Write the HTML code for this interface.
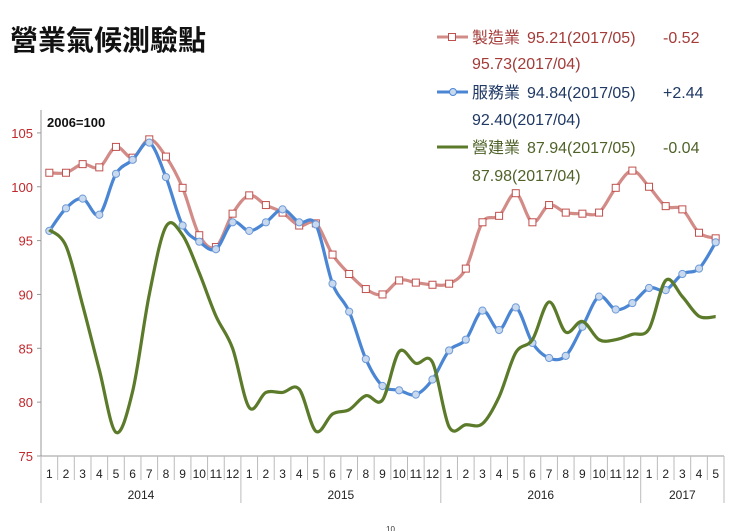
<!DOCTYPE html>
<html><head><meta charset="utf-8"><style>
body{margin:0;background:#fff;width:741px;height:531px;overflow:hidden}
svg{display:block}
text{font-family:"Liberation Sans","Noto Sans CJK TC",sans-serif}
</style></head><body>
<svg id="s" width="741" height="531" viewBox="0 0 741 531" xmlns="http://www.w3.org/2000/svg">
<text x="10" y="50" font-size="28" font-weight="bold" fill="#111">營業氣候測驗點</text>
<g font-size="16">
<line x1="437" y1="37" x2="468" y2="37" stroke="#D38B87" stroke-width="3"/><rect x="448.5" y="33.5" width="7" height="7" fill="#fff" stroke="#C0504D"/>
<text x="472" y="43" fill="#A33B38">製造業</text><text x="527" y="43" fill="#A33B38">95.21(2017/05)</text><text x="663" y="43" fill="#A33B38">-0.52</text>
<text x="472" y="69" fill="#A33B38">95.73(2017/04)</text>
<line x1="437" y1="92" x2="468" y2="92" stroke="#4A86D4" stroke-width="3"/><circle cx="453" cy="92" r="3.5" fill="#C9D9EE" stroke="#4A86D4"/>
<text x="472" y="98" fill="#1F3864">服務業</text><text x="527" y="98" fill="#1F3864">94.84(2017/05)</text><text x="663" y="98" fill="#1F3864">+2.44</text>
<text x="472" y="125" fill="#1F3864">92.40(2017/04)</text>
<line x1="437" y1="147" x2="468" y2="147" stroke="#5B7A2A" stroke-width="3"/>
<text x="472" y="153" fill="#4F6228">營建業</text><text x="527" y="153" fill="#4F6228">87.94(2017/05)</text><text x="663" y="153" fill="#4F6228">-0.04</text>
<text x="472" y="181" fill="#4F6228">87.98(2017/04)</text>
</g>
<text x="47" y="127" font-size="13" font-weight="bold" fill="#111">2006=100</text>
<g id="ax"></g>
<g id="ser"></g>
<text x="386" y="532" font-size="8" fill="#333">10</text>
</svg>
<script>
var NS="http://www.w3.org/2000/svg";
function el(p,t,a,tx){var e=document.createElementNS(NS,t);for(var k in a)e.setAttribute(k,a[k]);if(tx!=null)e.textContent=tx;p.appendChild(e);return e;}
var ax=document.getElementById("ax"),ser=document.getElementById("ser");
var X0=41,X1=724,N=41,dx=(X1-X0)/N;
function Y(v){return 456-(v-75)*10.77;}
function X(i){return X0+dx*(i+0.5);}
el(ax,"line",{x1:X0,y1:110,x2:X0,y2:456,stroke:"#999"});
[75,80,85,90,95,100,105].forEach(function(v){var y=Y(v);
el(ax,"line",{x1:X0-4,y1:y,x2:X0,y2:y,stroke:"#999"});
el(ax,"text",{x:X0-8,y:y+5,"text-anchor":"end","font-size":"13",fill:"#C0282D"},v);});
el(ax,"line",{x1:X0,y1:456,x2:X1,y2:456,stroke:"#999"});
for(var i=0;i<=N;i++){var xx=X0+dx*i;var yr=(i%12==0)||i==N;
el(ax,"line",{x1:xx,y1:456,x2:xx,y2:yr?503:480,stroke:"#bbb"});
if(i<N)el(ax,"text",{x:X(i),y:478,"text-anchor":"middle","font-size":"12",fill:"#222"},(i%12)+1);}
[["2014",0,12],["2015",12,24],["2016",24,36],["2017",36,41]].forEach(function(a){
el(ax,"text",{x:X0+dx*(a[1]+a[2])/2,y:499,"text-anchor":"middle","font-size":"12",fill:"#222"},a[0]);});
var red=[101.3,101.3,102.1,101.8,103.7,102.7,104.4,102.8,99.9,95.5,94.4,97.5,99.2,98.3,97.6,96.4,96.6,93.7,91.9,90.5,90.0,91.3,91.1,90.9,91.0,92.4,96.7,97.3,99.4,96.7,98.3,97.6,97.5,97.6,99.9,101.5,100.0,98.2,97.9,95.73,95.21];
var blue=[95.9,98.0,98.9,97.4,101.2,102.5,104.1,100.9,96.4,94.9,94.2,96.7,95.9,96.7,97.9,96.7,96.5,91.0,88.4,84.0,81.5,81.1,80.7,82.1,84.8,85.8,88.5,86.7,88.8,85.5,84.1,84.3,87.0,89.8,88.6,89.2,90.6,90.4,91.9,92.40,94.84];
var green=[96.0,94.5,89.0,83.0,77.2,81.0,90.0,96.3,95.5,92.0,88.0,85.0,79.5,80.9,80.9,81.2,77.3,78.9,79.3,80.6,80.2,84.7,83.6,83.7,77.7,77.9,78.0,80.5,84.6,85.8,89.3,86.5,87.5,85.8,85.8,86.3,86.8,91.3,89.8,87.98,87.94];
function path(d){var p=d.map(function(v,i){return[X(i),Y(v)];});var s="M"+p[0][0]+","+p[0][1];
for(var i=0;i<p.length-1;i++){var a=p[Math.max(0,i-1)],b=p[i],c=p[i+1],e=p[Math.min(p.length-1,i+2)];
s+=" C"+(b[0]+(c[0]-a[0])/6)+","+(b[1]+(c[1]-a[1])/6)+" "+(c[0]-(e[0]-b[0])/6)+","+(c[1]-(e[1]-b[1])/6)+" "+c[0]+","+c[1];}return s;}
el(ser,"path",{d:path(red),fill:"none",stroke:"#D38B87","stroke-width":3.2});
red.forEach(function(v,i){el(ser,"rect",{x:X(i)-3.5,y:Y(v)-3.5,width:7,height:7,fill:"#fff",stroke:"#C0504D","stroke-width":1});});
el(ser,"path",{d:path(blue),fill:"none",stroke:"#4A86D4","stroke-width":3.2});
blue.forEach(function(v,i){el(ser,"circle",{cx:X(i),cy:Y(v),r:3.6,fill:"#C9D9EE",stroke:"#6E9BD8","stroke-width":1});});
el(ser,"path",{d:path(green),fill:"none",stroke:"#5B7A2A","stroke-width":3.2});
</script>
</body></html>
